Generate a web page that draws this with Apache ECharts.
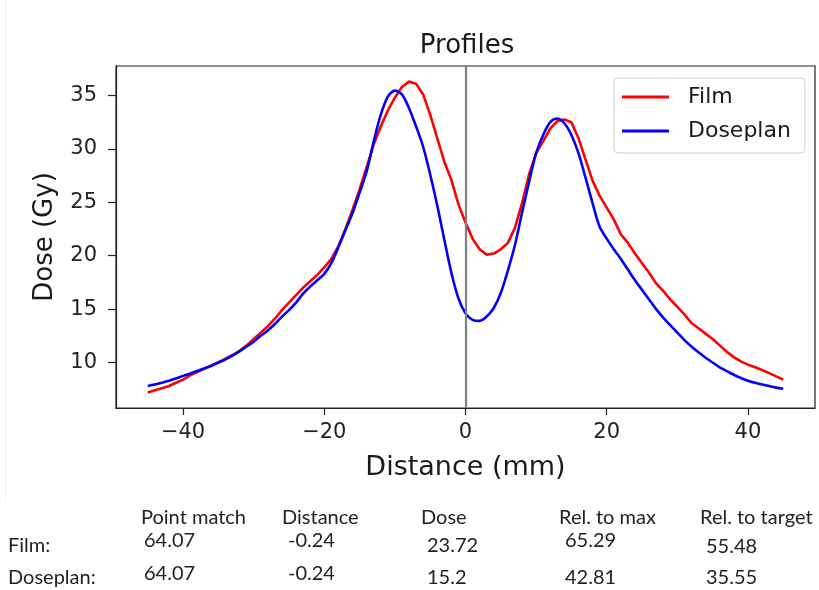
<!DOCTYPE html>
<html>
<head>
<meta charset="utf-8">
<script src="https://cdn.jsdelivr.net/npm/echarts@6/dist/echarts.min.js"></script>
<style>
  html, body { margin: 0; padding: 0; background: #fff; }
  #chart { width: 819px; height: 590px; }
</style>
</head>
<body>
<div id="chart"></div>
<script>
// distance along the profile, mm
const distanceMm = [
  -45, -44, -43, -42, -41, -40, -39, -38, -37, -36, -35, -34, -33, -32, -31, -30,
  -29, -28, -27, -26, -25, -24, -23, -22, -21, -20, -19, -18, -17, -16, -15, -14,
  -13, -12, -11, -10, -9, -8, -7, -6, -5, -4, -3, -2, -1, 0, 1, 2, 3, 4, 5, 6, 7,
  8, 9, 10, 11, 12, 13, 14, 15, 16, 17, 18, 19, 20, 21, 22, 23, 24, 25, 26, 27, 28,
  29, 30, 31, 32, 33, 34, 35, 36, 37, 38, 39, 40, 41, 42, 43, 44, 45
];

const filmDose = [
  7.2, 7.4, 7.6, 7.8, 8.1, 8.4, 8.8, 9.1, 9.4, 9.7, 10.0, 10.35, 10.7, 11.1, 11.6, 12.2,
  12.8, 13.4, 14.1, 14.9, 15.6, 16.3, 17.0, 17.6, 18.2, 18.9, 19.7, 20.9, 22.5, 24.3, 26.2, 28.3,
  30.4, 32.1, 33.6, 34.8, 35.8, 36.3, 36.1, 35.1, 33.2, 31.0, 28.8, 27.1, 24.8, 23.1, 21.6, 20.6, 20.1,
  20.2, 20.6, 21.2, 22.6, 24.9, 27.6, 29.6, 30.7, 31.9, 32.6, 32.75, 32.5, 31.0, 29.0, 27.0, 25.6,
  24.5, 23.4, 22.0, 21.2, 20.2, 19.3, 18.4, 17.4, 16.7, 15.9, 15.2, 14.5, 13.7, 13.2, 12.7, 12.2,
  11.6, 11.0, 10.5, 10.1, 9.8, 9.55, 9.3, 9.0, 8.7, 8.4
];

const doseplanDose = [
  7.8, 7.95, 8.1, 8.3, 8.5, 8.75, 8.97, 9.2, 9.45, 9.7, 10.0, 10.3, 10.65, 11.05, 11.5, 11.95,
  12.5, 13.0, 13.6, 14.3, 14.9, 15.6, 16.45, 17.1, 17.7, 18.3, 19.3, 20.8, 22.4, 24.0, 25.9, 27.9,
  30.7, 33.2, 34.9, 35.45, 35.1, 33.8, 32.1, 30.2, 27.6, 24.7, 21.5, 18.4, 16.0, 14.6, 14.0, 13.9, 14.3,
  15.1, 16.5, 18.6, 21.0, 24.0, 26.9, 29.6, 31.3, 32.5, 32.85, 32.4, 31.3, 29.6, 27.3, 24.9, 22.7,
  21.6, 20.6, 19.7, 18.7, 17.7, 16.8, 15.9, 15.0, 14.2, 13.5, 12.8, 12.1, 11.5, 10.95, 10.45, 10.0,
  9.55, 9.2, 8.85, 8.55, 8.3, 8.1, 7.95, 7.8, 7.65, 7.55
];

const xTicks = [-40, -20, 0, 20, 40];
const yTicks = [10, 15, 20, 25, 30, 35];

const tableHeader = ['Point match', 'Distance', 'Dose', 'Rel. to max', 'Rel. to target'];
const rowNames = ['Film:', 'Doseplan:'];
const filmStats = ['64.07', '-0.24', '23.72', '65.29', '55.48'];
const doseplanStats = ['64.07', '-0.24', '15.2', '42.81', '35.55'];

const toPairs = (ys) => distanceMm.map((x, i) => [x, ys[i]]);
const minus = (v) => String(v).replace('-', '\u2212');

const chart = echarts.init(document.getElementById('chart'), null, { renderer: 'canvas' });

// table underneath the plot
const tableFont = '20px Lato, "Liberation Sans", sans-serif';
const headerX = [141, 282, 421, 559, 700];
const cellX = [144, 288, 427, 565, 706];
const filmY = [541, 541, 546, 541, 547];
const doseplanY = [574, 574, 578, 578, 578];

const graphics = [
  { type: 'line', shape: { x1: 5.5, y1: 0, x2: 5.5, y2: 500 }, style: { stroke: '#e8f0f8', lineWidth: 1 } }
];
const addText = (text, x, y) => graphics.push({
  type: 'text', x: x, y: y,
  style: { text: text, font: tableFont, fill: '#222', align: 'left', verticalAlign: 'middle' }
});
tableHeader.forEach((t, i) => addText(t, headerX[i], 518));
addText(rowNames[0], 8, 546);
addText(rowNames[1], 8, 578);
filmStats.forEach((t, i) => addText(t, cellX[i], filmY[i]));
doseplanStats.forEach((t, i) => addText(t, cellX[i], doseplanY[i]));

const font = 'DejaVu Sans';

chart.setOption({
  animation: false,
  backgroundColor: '#fff',
  title: {
    text: 'Profiles',
    left: 462,
    top: 28,
    textAlign: 'center',
    textStyle: { fontFamily: font, fontSize: 26, fontWeight: 'normal', color: '#1a1a1a' }
  },
  legend: {
    orient: 'vertical',
    left: 614,
    top: 78,
    padding: [7, 14, 10, 8],
    itemWidth: 47,
    itemHeight: 3,
    itemGap: 10,
    icon: 'rect',
    borderColor: '#d0d0d0',
    borderWidth: 1,
    borderRadius: 4,
    backgroundColor: 'rgba(255,255,255,0.85)',
    textStyle: { fontFamily: font, fontSize: 22, lineHeight: 24, color: '#1a1a1a', padding: [0, 0, 0, 14] },
    data: ['Film', 'Doseplan']
  },
  grid: {
    left: 116,
    top: 66,
    width: 699,
    height: 342,
    show: true,
    borderColor: '#222',
    borderWidth: 1.2,
    containLabel: false
  },
  xAxis: {
    type: 'value',
    min: -49.5,
    max: 49.5,
    name: 'Distance (mm)',
    nameLocation: 'middle',
    nameGap: 46,
    nameTextStyle: { fontFamily: font, fontSize: 27, color: '#1a1a1a' },
    axisLine: { show: true, onZero: false, lineStyle: { color: '#222', width: 1.2 } },
    axisTick: { show: true, inside: false, length: 7, customValues: xTicks, lineStyle: { color: '#222', width: 1.2 } },
    axisLabel: {
      customValues: xTicks,
      margin: 14,
      fontFamily: font,
      fontSize: 21,
      color: '#222',
      formatter: minus
    },
    splitLine: { show: false }
  },
  yAxis: {
    type: 'value',
    min: 5.74,
    max: 37.76,
    name: 'Dose (Gy)',
    nameLocation: 'middle',
    nameGap: 58,
    nameTextStyle: { fontFamily: font, fontSize: 26, color: '#1a1a1a' },
    axisLine: { show: true, onZero: false, lineStyle: { color: '#222', width: 1.2 } },
    axisTick: { show: true, inside: false, length: 8, customValues: yTicks, lineStyle: { color: '#222', width: 1.2 } },
    axisLabel: {
      customValues: yTicks,
      margin: 19,
      fontFamily: font,
      fontSize: 21,
      color: '#222'
    },
    splitLine: { show: false }
  },
  series: [
    {
      name: 'Film',
      type: 'line',
      data: toPairs(filmDose),
      symbol: 'none',
      lineStyle: { color: '#ff0000', width: 2.6 },
      itemStyle: { color: '#ff0000' },
      z: 3
    },
    {
      name: 'Doseplan',
      type: 'line',
      data: toPairs(doseplanDose),
      symbol: 'none',
      smooth: 0.3,
      lineStyle: { color: '#0000ff', width: 2.6 },
      itemStyle: { color: '#0000ff' },
      z: 4,
      markLine: {
        silent: true,
        symbol: 'none',
        label: { show: false },
        lineStyle: { color: '#808080', width: 2.2, type: 'solid' },
        data: [{ xAxis: 0 }]
      }
    }
  ],
  graphic: graphics
});
</script>
</body>
</html>
